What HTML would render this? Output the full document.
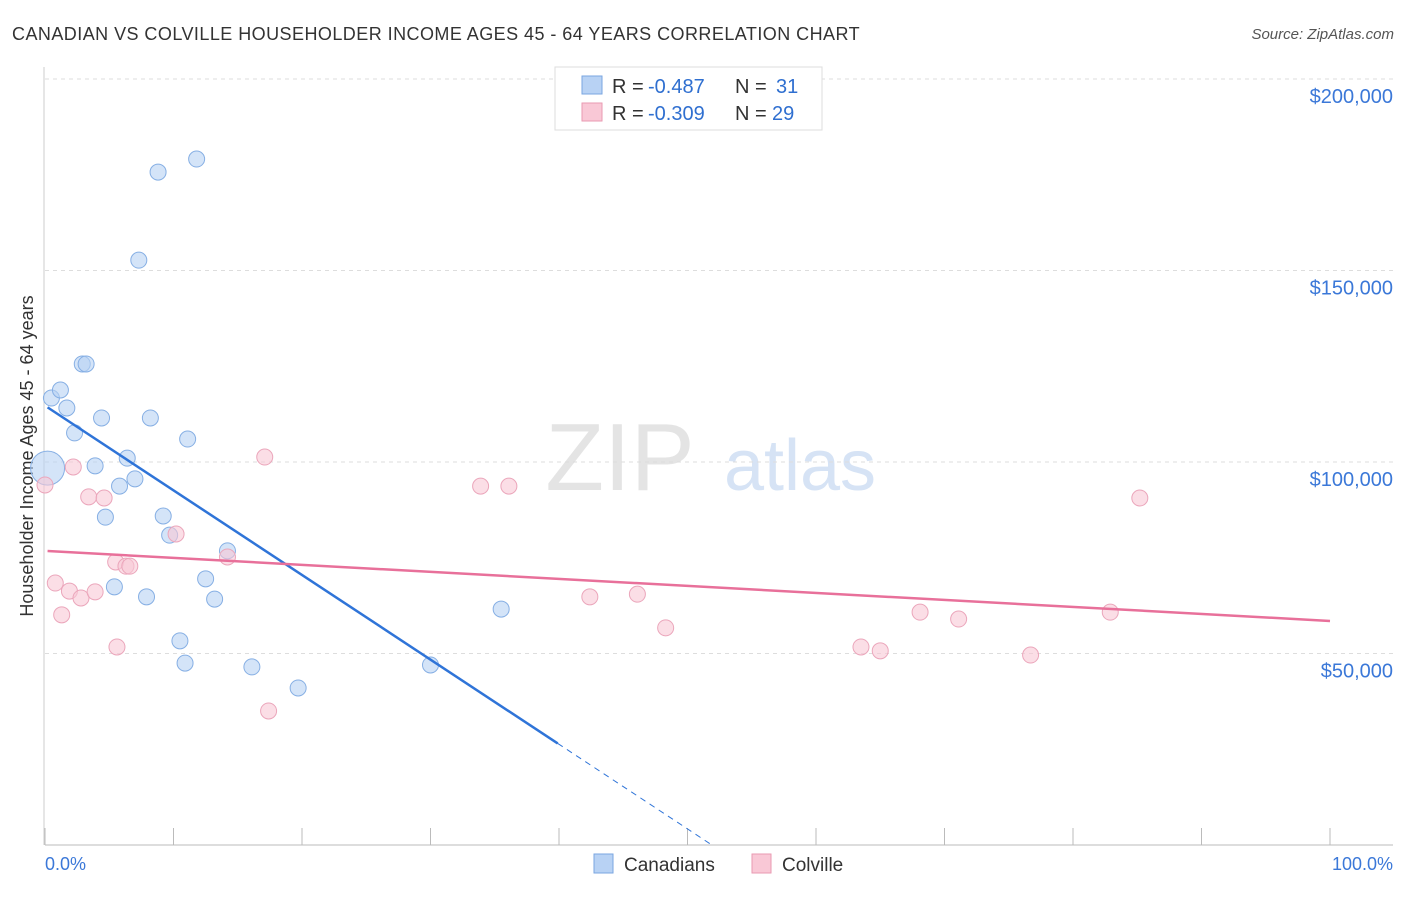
<!DOCTYPE html>
<html><head><meta charset="utf-8"><style>
body{margin:0;background:#fff;font-family:"Liberation Sans",sans-serif;}
svg text{font-family:"Liberation Sans",sans-serif;}
</style></head><body>
<svg id="c" width="1406" height="892" xmlns="http://www.w3.org/2000/svg">
<text x="12" y="40" font-size="18" letter-spacing="0.45" fill="#333">CANADIAN VS COLVILLE HOUSEHOLDER INCOME AGES 45 - 64 YEARS CORRELATION CHART</text>
<text x="1394" y="39" font-size="15" fill="#555" font-style="italic" text-anchor="end">Source: ZipAtlas.com</text>
<text x="620" y="490" font-size="96" fill="#e4e4e4" font-family="Liberation Serif" text-anchor="middle">ZIP</text>
<text x="800" y="490" font-size="72" fill="#d6e3f5" text-anchor="middle">atlas</text>
<text x="33" y="456" font-size="18" fill="#333" text-anchor="middle" transform="rotate(-90 33 456)">Householder Income Ages 45 - 64 years</text>
<g id="grid"></g><g id="marks"></g>
<g>
<rect x="555" y="67" width="267" height="63" fill="#fff" stroke="#ddd"/>
<rect x="582" y="76" width="20" height="18" fill="#b8d2f4" stroke="#7aa6e0"/>
<text x="612" y="93" font-size="20" fill="#333">R =</text>
<text x="648" y="93" font-size="20" fill="#2f6fd0">-0.487</text>
<text x="735" y="93" font-size="20" fill="#333">N =</text>
<text x="776" y="93" font-size="20" fill="#2f6fd0">31</text>
<rect x="582" y="103" width="20" height="18" fill="#f9c8d6" stroke="#e99ab2"/>
<text x="612" y="120" font-size="20" fill="#333">R =</text>
<text x="648" y="120" font-size="20" fill="#2f6fd0">-0.309</text>
<text x="735" y="120" font-size="20" fill="#333">N =</text>
<text x="772" y="120" font-size="20" fill="#2f6fd0">29</text>
</g>
<g>
<rect x="594" y="854" width="19" height="19" fill="#b8d2f4" stroke="#7aa6e0"/>
<text x="624" y="871" font-size="19" fill="#333">Canadians</text>
<rect x="752" y="854" width="19" height="19" fill="#f9c8d6" stroke="#e99ab2"/>
<text x="782" y="871" font-size="19" fill="#333">Colville</text>
</g>
<text x="45" y="870" font-size="18" fill="#3b78d8">0.0%</text>
<text x="1393" y="870" font-size="18" fill="#3b78d8" text-anchor="end">100.0%</text>
</svg>
<script>
const yTicks=[50000,100000,150000,200000];
const yTickLabels=["$50,000","$100,000","$150,000","$200,000"];
const blueX=[0.5,1.2,1.7,2.3,2.9,3.2,3.9,4.4,4.7,5.4,5.8,6.4,7.0,7.3,7.9,8.2,8.8,9.2,9.7,10.5,10.9,11.1,11.8,12.5,13.2,14.2,16.1,19.7,30.0,35.5,0.2];
const blueY=[116700,118800,114100,107600,125600,125600,99000,111500,85600,67400,93700,101000,95600,152700,64800,111500,175700,85900,80900,53300,47500,106000,179100,69500,64200,76800,46500,41000,47000,61600,98400];
const blueR=[8,8,8,8,8,8,8,8,8,8,8,8,8,8,8,8,8,8,8,8,8,8,8,8,8,8,8,8,8,8,17];
const pinkX=[0,0.8,1.3,1.9,2.2,2.8,3.4,3.9,4.6,5.5,5.6,6.3,6.6,10.2,14.2,17.1,17.4,33.9,36.1,42.4,46.1,48.3,63.5,65.0,68.1,71.1,76.7,82.9,85.2];
const pinkY=[94000,68400,60100,66300,98700,64500,90900,66100,90600,73900,51700,72800,72800,81200,75200,101300,35000,93700,93700,64800,65500,56700,51700,50700,60800,59000,49600,60800,90600];
const blueFit=[114700,-2210];
const pinkFit=[76800,-183];
const NS="http://www.w3.org/2000/svg";
const xs=v=>45+v*12.85, ys=v=>845-v/50000*191.5;
function mk(t,a,p){const e=document.createElementNS(NS,t);for(const k in a)e.setAttribute(k,a[k]);p.appendChild(e);return e;}
const g=document.getElementById('grid'), m=document.getElementById('marks');
yTicks.forEach((t,i)=>{
 const l=mk('line',{x1:45,x2:1393,y1:ys(t),y2:ys(t),stroke:'#ddd','stroke-dasharray':'4,4'},g);
 
 
 const tx=mk('text',{x:1393,y:ys(t)+24,'font-size':20,fill:'#3b78d8','text-anchor':'end'},g);
 tx.textContent=yTickLabels[i];
 
 
});
const ax=mk('line',{x1:45,x2:1393,y1:845,y2:845,stroke:'#bbb'},g);


const ay=mk('line',{x1:44,x2:44,y1:67,y2:845,stroke:'#ccc'},g);


for(let i=0;i<=10;i++){const t=mk('line',{x1:xs(i*10),x2:xs(i*10),y1:828,y2:845,stroke:'#bbb'},g);
 
 }
blueX.forEach((x,i)=>{const c=mk('circle',{cx:xs(x),cy:ys(blueY[i]),r:blueR[i],fill:'#b8d2f4','fill-opacity':0.6,stroke:'#86afe4'},m);
 
 });
pinkX.forEach((x,i)=>{const c=mk('circle',{cx:xs(x),cy:ys(pinkY[i]),r:8,fill:'#f9c8d6','fill-opacity':0.6,stroke:'#eba6bb'},m);
 
 });
const bf=x=>blueFit[0]+blueFit[1]*x, pf=x=>pinkFit[0]+pinkFit[1]*x;
const bl=mk('line',{x1:xs(0.2),y1:ys(bf(0.2)),x2:xs(39.9),y2:ys(bf(39.9)),stroke:'#2f74d8','stroke-width':2.5},m);


const x0=-blueFit[0]/blueFit[1];
const bd=mk('line',{x1:xs(39.9),y1:ys(bf(39.9)),x2:xs(x0),y2:ys(0),stroke:'#2f74d8','stroke-width':1,'stroke-dasharray':'6,5'},m);


const pl=mk('line',{x1:xs(0.2),y1:ys(pf(0.2)),x2:xs(100),y2:ys(pf(100)),stroke:'#e8709a','stroke-width':2.5},m);


</script>
</body></html>
